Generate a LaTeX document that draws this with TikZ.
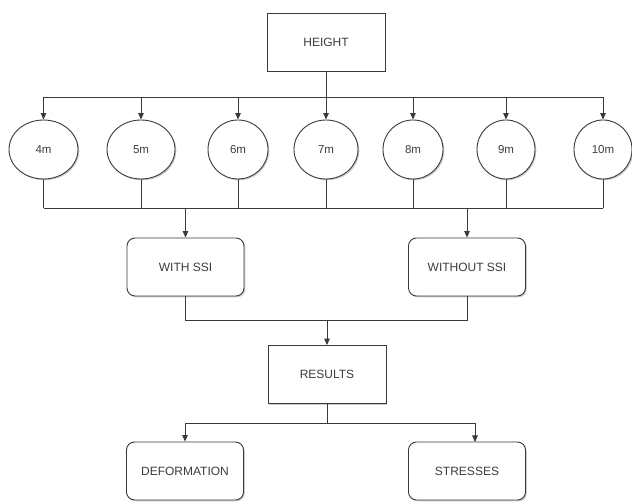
\documentclass[tikz,border=0pt]{standalone}
\usepackage{fontspec}
\setmainfont{Liberation Sans}
\usetikzlibrary{arrows.meta,shapes.geometric,shadows}
\definecolor{ln}{HTML}{3A3A3A}
\definecolor{tx}{HTML}{3C3C3C}
\tikzset{
  base/.style={draw=ln, line width=0.9pt, fill=white, text=tx, font=\fontsize{12}{14}\selectfont, inner sep=0pt,
    drop shadow={shadow xshift=1.3pt, shadow yshift=-1.3pt, opacity=0.2, fill=black}},
  sqbox/.style={base, rectangle, minimum width=118pt, minimum height=58pt},
  rbox/.style={base, rectangle, rounded corners=8pt, minimum width=117pt, minimum height=58pt},
  circ/.style={base, ellipse, minimum height=59pt, font=\fontsize{11.5}{13}\selectfont},
  conn/.style={draw=ln, line width=0.9pt},
  arr/.style={conn, -{Triangle[length=6.5pt,width=5.5pt]}},
}
\begin{document}
\begin{tikzpicture}[x=1pt,y=-1pt]
\useasboundingbox[fill=white] (0,0) rectangle (632,502);
% nodes
\node[sqbox] (height) at (326,42) {HEIGHT};
\node[circ, minimum width=69pt] (c4)  at (43.5,149.5) {4m};
\node[circ, minimum width=68pt] (c5)  at (141,149.5) {5m};
\node[circ, minimum width=60pt] (c6)  at (238,149.5) {6m};
\node[circ, minimum width=64pt] (c7)  at (326,149.5) {7m};
\node[circ, minimum width=60pt] (c8)  at (413,149.5) {8m};
\node[circ, minimum width=58pt] (c9)  at (506,149.5) {9m};
\node[circ, minimum width=58pt] (c10) at (603,149.5) {10m};
\node[rbox] (ssi)   at (185.5,267) {WITH SSI};
\node[rbox] (nossi) at (467,267) {WITHOUT SSI};
\node[sqbox] (res)  at (327,374.5) {RESULTS};
\node[rbox] (def)   at (185,471) {DEFORMATION};
\node[rbox] (str)   at (467,471) {STRESSES};
% bus coordinates
\coordinate (busT) at (326,97);
\coordinate (busB) at (326,208);
\coordinate (busJ) at (327,320);
\coordinate (busR) at (327,423);
\coordinate (strin) at (475,442);
% top distribution
\draw[conn] (height.south) -- (busT);
\draw[conn] (c4 |- busT) -- (c10 |- busT);
\foreach \c in {c4,c5,c6,c7,c8,c9,c10}{
  \draw[arr] (\c |- busT) -- (\c.north);
}
% bottom collection
\foreach \c in {c4,c5,c6,c7,c8,c9,c10}{
  \draw[conn] (\c.south) -- (\c |- busB);
}
\draw[conn] (c4 |- busB) -- (c10 |- busB);
\draw[arr] (ssi |- busB) -- (ssi.north);
\draw[arr] (nossi |- busB) -- (nossi.north);
% join
\draw[conn] (ssi.south) -- (ssi |- busJ) -- (nossi |- busJ) -- (nossi.south);
\draw[arr] (busJ) -- (res.north);
% results split
\draw[conn] (res.south) -- (busR);
\draw[arr] (busR) -| (def.north);
\draw[arr] (busR) -| (strin);
\end{tikzpicture}
\end{document}
